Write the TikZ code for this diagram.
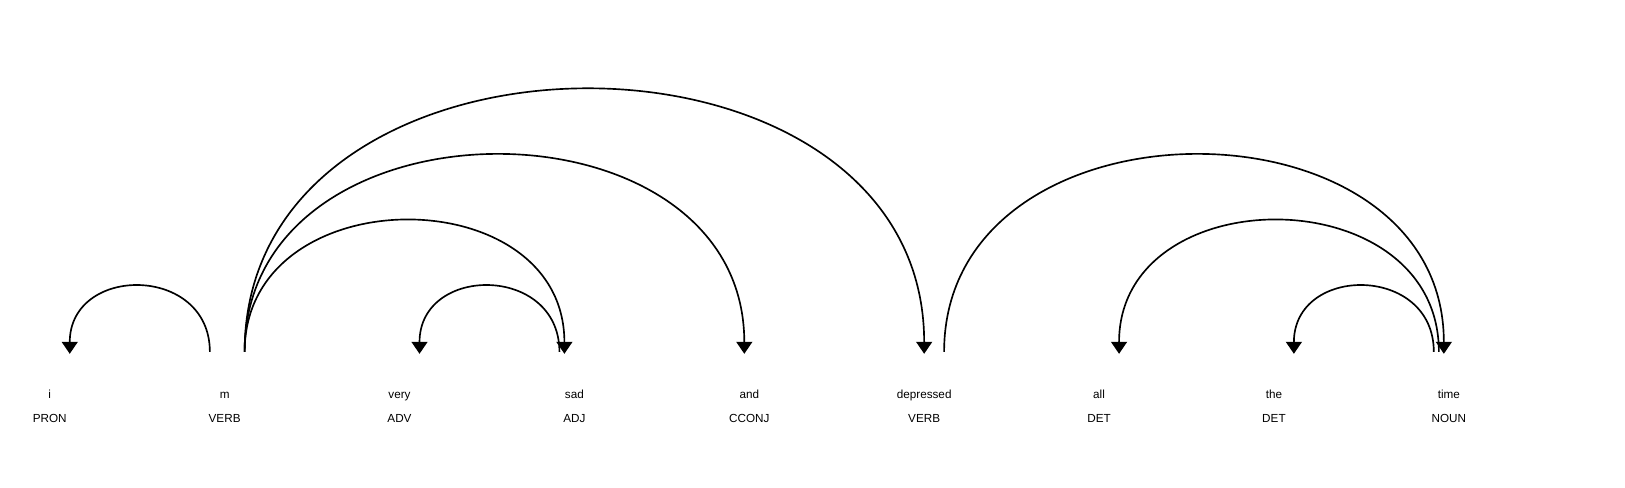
\documentclass[tikz,border=0pt]{standalone}
\usepackage{fontspec}
\setmainfont{Liberation Sans}
\usetikzlibrary{arrows.meta}
\newcommand\deparc[3]{\draw[deplink] (#1) .. controls +(0,-#3) and +(0,-#3-1.9) .. (#2);}
\begin{document}
\begin{tikzpicture}[x=1pt,y=-1pt,
  word/.style={anchor=base,inner sep=0pt,font=\fontsize{11.3}{13}\selectfont},
  deplink/.style={line width=1.6pt,-{Triangle[width=15.4pt,length=11.6pt]}}]
\useasboundingbox (0,0) rectangle (1568,470);
% words
\node[word] (w0) at (48,384.8) {i};
\node[word] (w1) at (216.75,384.8) {m};
\node[word] (w2) at (385.5,384.8) {very};
\node[word] (w3) at (554.25,384.8) {sad};
\node[word] (w4) at (723,384.8) {and};
\node[word] (w5) at (891.75,384.8) {depressed};
\node[word] (w6) at (1060.5,384.8) {all};
\node[word] (w7) at (1229.25,384.8) {the};
\node[word] (w8) at (1398,384.8) {time};
% tags
\node[word] (t0) at (48,407.6) {PRON};
\node[word] (t1) at (216.75,407.6) {VERB};
\node[word] (t2) at (385.5,407.6) {ADV};
\node[word] (t3) at (554.25,407.6) {ADJ};
\node[word] (t4) at (723,407.6) {CCONJ};
\node[word] (t5) at (891.75,407.6) {VERB};
\node[word] (t6) at (1060.5,407.6) {DET};
\node[word] (t7) at (1229.25,407.6) {DET};
\node[word] (t8) at (1398,407.6) {NOUN};
% arc end points
\coordinate (h1) at (202.5,339.5);
\coordinate (d1) at (67.3,341.4);
\coordinate (h2) at (539.8,339.5);
\coordinate (d2) at (404.8,341.4);
\coordinate (mR) at (236.05,339.5);
\coordinate (d3) at (544.6,341.4);
\coordinate (d4) at (718.2,341.4);
\coordinate (d5) at (891.75,341.4);
\coordinate (h6) at (911.0,339.5);
\coordinate (d6) at (1393.2,341.4);
\coordinate (h7) at (1388.4,339.5);
\coordinate (d7) at (1079.8,341.4);
\coordinate (h8) at (1383.5,339.5);
\coordinate (d8) at (1248.5,341.4);
% arcs
\deparc{h1}{d1}{84.375}
\deparc{h2}{d2}{84.375}
\deparc{mR}{d3}{168.75}
\deparc{mR}{d4}{253.125}
\deparc{mR}{d5}{337.5}
\deparc{h6}{d6}{253.125}
\deparc{h7}{d7}{168.75}
\deparc{h8}{d8}{84.375}
\end{tikzpicture}
\end{document}
